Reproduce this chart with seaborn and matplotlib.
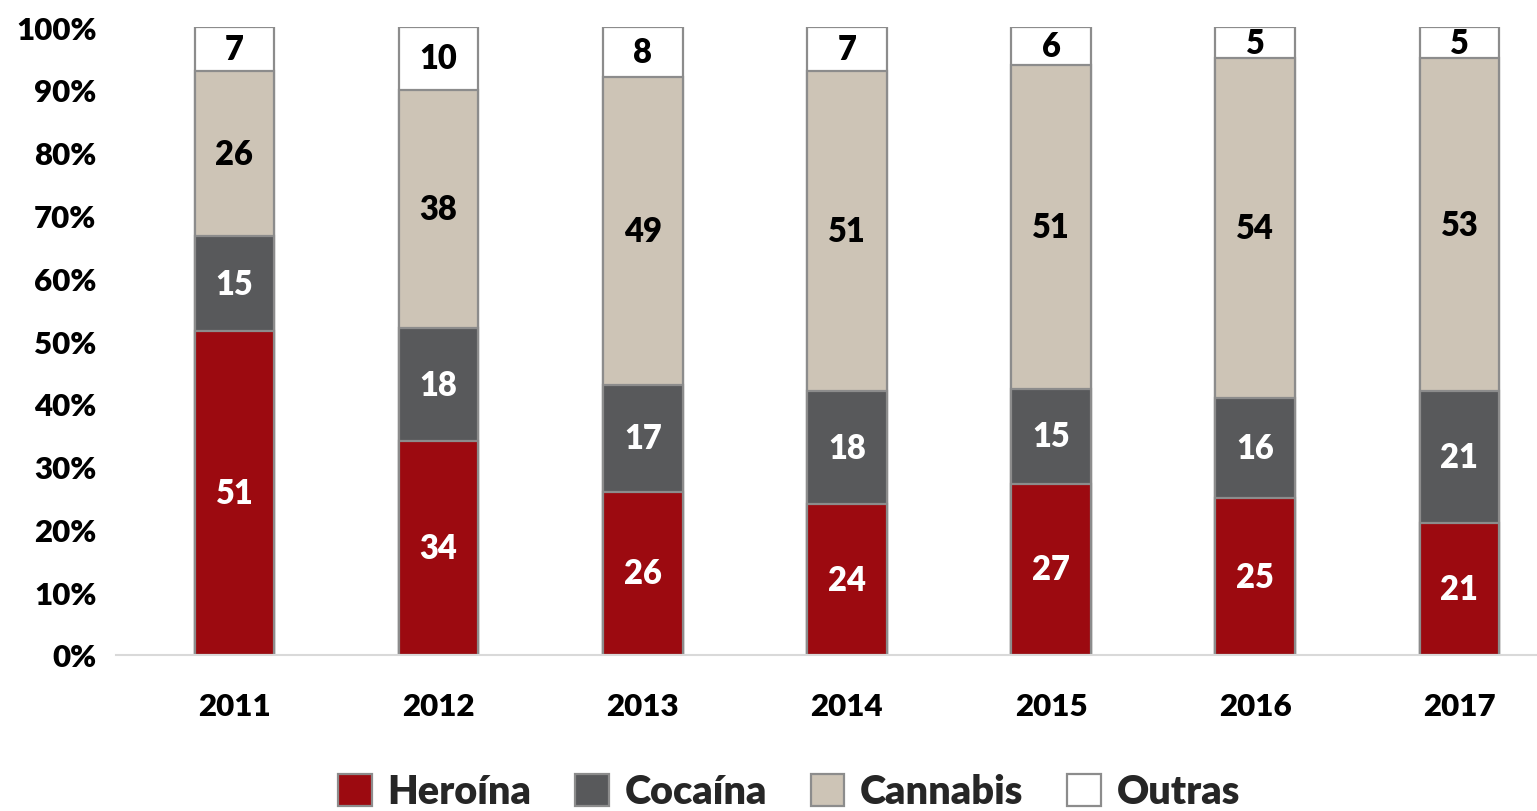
import numpy as np
import pandas as pd
import matplotlib
matplotlib.use("Agg")
import matplotlib.pyplot as plt
from matplotlib.patches import Patch
import seaborn as sns

years = ["2011", "2012", "2013", "2014", "2015", "2016", "2017"]
heroina = [51, 34, 26, 24, 27, 25, 21]
cocaina = [15, 18, 17, 18, 15, 16, 21]
cannabis = [26, 38, 49, 51, 51, 54, 53]
outras = [7, 10, 8, 7, 6, 5, 5]

series = ["Heroína", "Cocaína", "Cannabis", "Outras"]
colors = ["#9c0a10", "#58595b", "#cdc4b6", "#ffffff"]
text_colors = ["white", "white", "black", "black"]

df = pd.DataFrame({"ano": years, "Heroína": heroina, "Cocaína": cocaina,
                   "Cannabis": cannabis, "Outras": outras})
raw = df[series].to_numpy(dtype=float)
share = raw / raw.sum(axis=1, keepdims=True) * 100
cum = np.cumsum(share, axis=1)

W = "heavy"
sns.set_theme(style="white")
plt.rcParams["font.family"] = ["Lato", "DejaVu Sans"]
plt.rcParams["font.weight"] = W

fig = plt.figure(figsize=(15.37, 8.12), dpi=100)
ax = fig.add_axes([116 / 1537, 156 / 812, 1421 / 1537, 628 / 812])

# stacked bars drawn from the top layer down
for i in reversed(range(len(series))):
    sns.barplot(x=df["ano"], y=cum[:, i], color=colors[i], width=0.39,
                edgecolor="#8c8c8c", linewidth=1.6, saturation=1, ax=ax)

for i in range(len(series)):
    for j in range(len(years)):
        mid = cum[j, i] - share[j, i] / 2
        ax.text(j, mid, str(int(raw[j, i])), ha="center", va="center",
                fontsize=23.5, fontweight=W, color=text_colors[i])

ax.set_ylim(0, 100)
ax.set_xlim(-0.58, 6.38)
ax.set_yticks(range(0, 101, 10))
ax.set_yticklabels([f"{v}%" for v in range(0, 101, 10)])
ax.tick_params(axis="y", labelsize=22.5, pad=14, length=0)
ax.tick_params(axis="x", labelsize=22.5, pad=27, length=0)
for lab in ax.get_xticklabels() + ax.get_yticklabels():
    lab.set_fontweight(W)
    lab.set_color("black")
ax.set_xlabel("")
ax.set_ylabel("")
for s in ["top", "right", "left"]:
    ax.spines[s].set_visible(False)
ax.spines["bottom"].set_color("#d9d9d9")
ax.spines["bottom"].set_linewidth(1.5)
ax.grid(False)

handles = [Patch(facecolor=c, edgecolor="#8c8c8c", linewidth=1.6) for c in colors]
fig.legend(handles, series, loc="center", bbox_to_anchor=(789 / 1537, 1 - 793 / 812),
           ncol=4, frameon=False, prop={"size": 28.5, "weight": W},
           handlelength=0.85, handleheight=0.85, handletextpad=0.4, columnspacing=1.1)

fig.savefig("out.png", dpi=100)
